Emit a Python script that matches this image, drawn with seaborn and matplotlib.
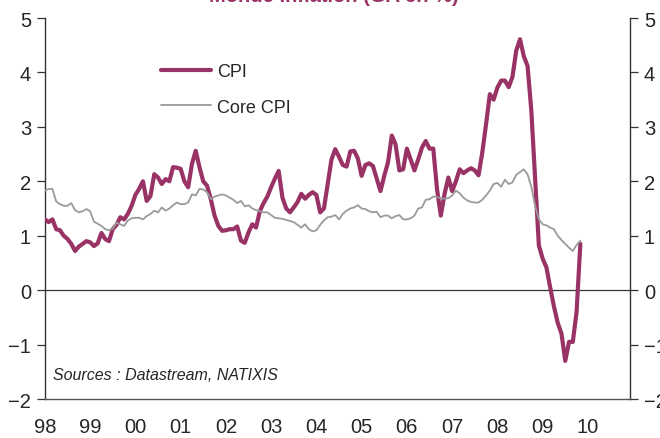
import numpy as np
import pandas as pd
import matplotlib
matplotlib.use("Agg")
import matplotlib.pyplot as plt
import seaborn as sns
from matplotlib.lines import Line2D

# Monthly data, Jan 1998 - Nov 2009 (YoY, %)
cpi_1998 = [1.30, 1.25, 1.30, 1.12, 1.10, 1.00, 0.94, 0.85, 0.72, 0.80, 0.85, 0.90]
cpi_1999 = [0.88, 0.81, 0.86, 1.05, 0.94, 0.90, 1.12, 1.20, 1.34, 1.30, 1.40, 1.55]
cpi_2000 = [1.75, 1.86, 2.00, 1.64, 1.73, 2.13, 2.07, 1.95, 2.04, 2.00, 2.26, 2.25]
cpi_2001 = [2.23, 2.00, 1.89, 2.32, 2.56, 2.26, 2.00, 1.92, 1.67, 1.37, 1.18, 1.09]
cpi_2002 = [1.10, 1.12, 1.12, 1.17, 0.91, 0.87, 1.06, 1.21, 1.15, 1.45, 1.60, 1.72]
cpi_2003 = [1.89, 2.05, 2.19, 1.70, 1.50, 1.43, 1.52, 1.62, 1.77, 1.68, 1.75, 1.80]
cpi_2004 = [1.75, 1.43, 1.50, 1.95, 2.40, 2.59, 2.45, 2.30, 2.27, 2.55, 2.56, 2.42]
cpi_2005 = [2.10, 2.30, 2.33, 2.28, 2.05, 1.82, 2.10, 2.35, 2.84, 2.68, 2.20, 2.22]
cpi_2006 = [2.60, 2.40, 2.20, 2.40, 2.62, 2.74, 2.60, 2.60, 1.85, 1.37, 1.77, 2.07]
cpi_2007 = [1.82, 2.00, 2.22, 2.15, 2.20, 2.24, 2.20, 2.11, 2.53, 3.05, 3.60, 3.50]
cpi_2008 = [3.72, 3.85, 3.85, 3.73, 3.92, 4.40, 4.61, 4.30, 4.12, 3.30, 2.05, 0.82]
cpi_2009 = [0.58, 0.42, 0.05, -0.30, -0.60, -0.80, -1.30, -0.95, -0.95, -0.40, 0.85]

core_1998 = [1.83, 1.86, 1.86, 1.63, 1.58, 1.55, 1.55, 1.60, 1.47, 1.43, 1.45, 1.49]
core_1999 = [1.45, 1.26, 1.22, 1.18, 1.12, 1.10, 1.13, 1.24, 1.21, 1.18, 1.28, 1.32]
core_2000 = [1.33, 1.33, 1.30, 1.36, 1.40, 1.46, 1.43, 1.52, 1.46, 1.50, 1.56, 1.61]
core_2001 = [1.58, 1.58, 1.61, 1.76, 1.74, 1.86, 1.85, 1.80, 1.67, 1.72, 1.74, 1.76]
core_2002 = [1.74, 1.70, 1.66, 1.60, 1.64, 1.54, 1.56, 1.50, 1.47, 1.45, 1.43, 1.43]
core_2003 = [1.38, 1.33, 1.32, 1.31, 1.29, 1.27, 1.25, 1.20, 1.15, 1.21, 1.12, 1.08]
core_2004 = [1.10, 1.20, 1.28, 1.34, 1.35, 1.38, 1.30, 1.40, 1.46, 1.50, 1.52, 1.56]
core_2005 = [1.50, 1.49, 1.45, 1.43, 1.44, 1.34, 1.37, 1.37, 1.32, 1.36, 1.38, 1.30]
core_2006 = [1.30, 1.32, 1.37, 1.50, 1.52, 1.66, 1.67, 1.72, 1.71, 1.69, 1.68, 1.69]
core_2007 = [1.74, 1.83, 1.78, 1.70, 1.65, 1.62, 1.61, 1.61, 1.66, 1.74, 1.83, 1.95]
core_2008 = [1.97, 1.90, 2.03, 1.95, 1.98, 2.12, 2.17, 2.22, 2.13, 1.90, 1.55, 1.30]
core_2009 = [1.21, 1.19, 1.15, 1.12, 1.00, 0.92, 0.85, 0.78, 0.72, 0.83, 0.91]

year_ticks = list(range(1998, 2011))
year_labels = ["98", "99", "00", "01", "02", "03", "04", "05", "06", "07", "08", "09", "10"]
y_ticks = [-2, -1, 0, 1, 2, 3, 4, 5]

cpi = (cpi_1998 + cpi_1999 + cpi_2000 + cpi_2001 + cpi_2002 + cpi_2003 +
       cpi_2004 + cpi_2005 + cpi_2006 + cpi_2007 + cpi_2008 + cpi_2009)
core = (core_1998 + core_1999 + core_2000 + core_2001 + core_2002 + core_2003 +
        core_2004 + core_2005 + core_2006 + core_2007 + core_2008 + core_2009)

t = 1998 + np.arange(len(cpi)) / 12.0
df = pd.DataFrame({
    "t": np.concatenate([t, t]),
    "v": cpi + core,
    "s": ["CPI"] * len(cpi) + ["Core CPI"] * len(core),
})

sns.set_style("white")
plt.rcParams["font.family"] = ["Liberation Sans", "DejaVu Sans"]

fig = plt.figure(figsize=(6.6, 4.39), dpi=100)
ax = fig.add_axes([0.068, 0.0888, 0.8865, 0.8679])

ax.axhline(0, color="#333333", lw=0.9, zorder=1)
sns.lineplot(data=df, x="t", y="v", hue="s", size="s",
             palette={"CPI": "#993366", "Core CPI": "#9a9a9a"},
             sizes={"CPI": 3.0, "Core CPI": 1.3},
             ax=ax, legend=False, zorder=3)

ax.set_xlim(1998, 2010.93)
ax.set_ylim(-2, 5)
ax.set_xticks(year_ticks)
ax.set_xticklabels(year_labels)
ax.set_yticks(y_ticks)
ax.set_xlabel("")
ax.set_ylabel("")

for side in ["left", "right"]:
    ax.spines[side].set_visible(True)
    ax.spines[side].set_color("#333333")
    ax.spines[side].set_linewidth(1.0)
ax.spines["bottom"].set_color("#555555")
ax.spines["bottom"].set_linewidth(1.0)
ax.spines["top"].set_visible(False)

ax.tick_params(axis="y", which="both", left=True, right=True, labelleft=True,
               labelright=True, direction="out", length=6, width=0.9,
               color="#333333", labelsize=14.5, pad=4)
ax.tick_params(axis="x", direction="out", length=6, width=0.9, color="#555555",
               labelsize=14.5, pad=7)

handles = [Line2D([], [], color="#993366", lw=3.0),
           Line2D([], [], color="#9a9a9a", lw=1.3)]
ax.legend(handles, ["CPI", "Core CPI"], loc="upper left",
          bbox_to_anchor=(0.17, 0.925), frameon=False, fontsize=13,
          handlelength=2.8, labelspacing=1.05, handletextpad=0.35)

ax.text(0.014, 0.045, "Sources : Datastream, NATIXIS", transform=ax.transAxes,
        fontsize=11.5, style="italic", ha="left", va="bottom")

fig.text(0.506, 0.995, "Monde Inflation (GA en %)", color="#993366",
         fontsize=14.5, fontweight="bold", ha="center", va="baseline")

fig.savefig("out.png", dpi=100)
